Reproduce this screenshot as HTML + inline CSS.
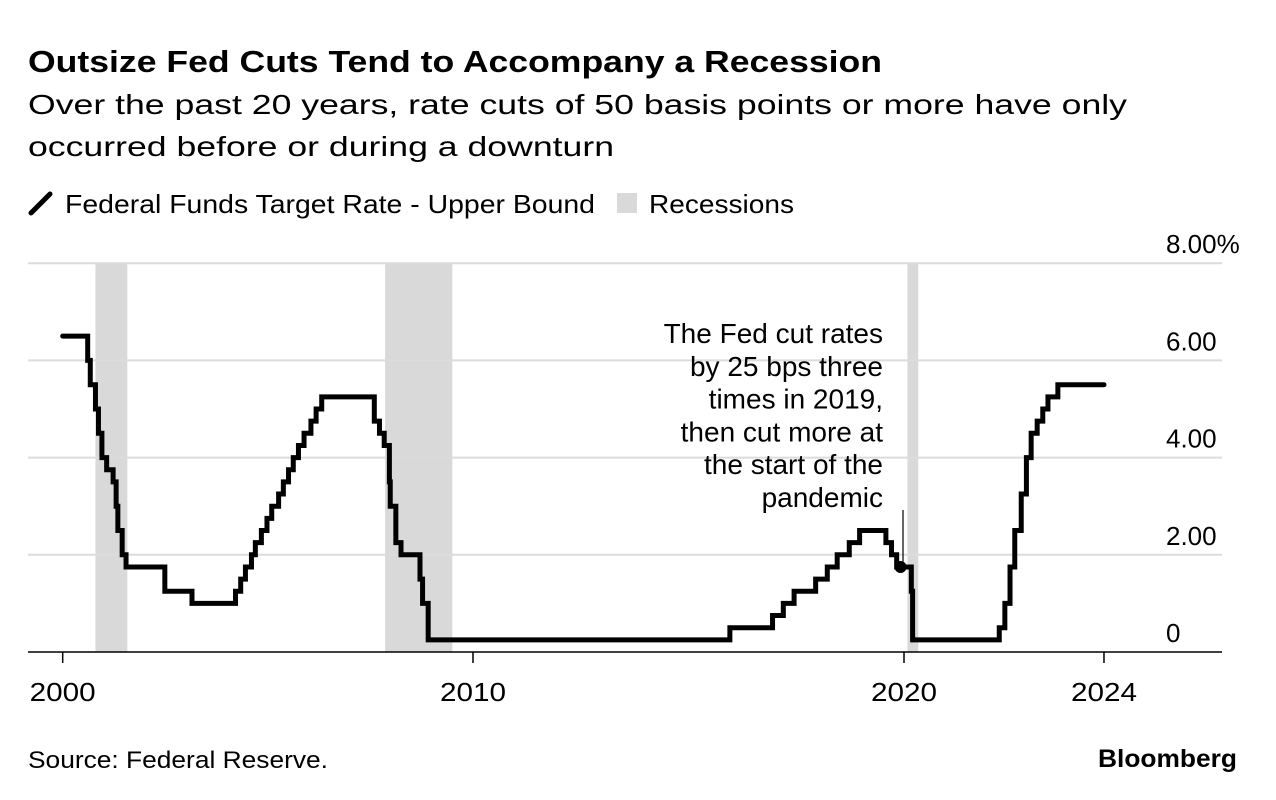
<!DOCTYPE html>
<html><head><meta charset="utf-8"><style>
html,body{margin:0;padding:0;background:#fff;width:1276px;height:800px;overflow:hidden}
svg{display:block;font-family:"Liberation Sans",sans-serif}
</style></head><body>
<svg id="chart" width="1276" height="800" viewBox="0 0 1276 800" xmlns="http://www.w3.org/2000/svg">
<text x="28" y="72" font-size="31" font-weight="bold" fill="#000" textLength="854" lengthAdjust="spacingAndGlyphs">Outsize Fed Cuts Tend to Accompany a Recession</text>
<text x="28" y="114" font-size="28" fill="#000" textLength="1099" lengthAdjust="spacingAndGlyphs">Over the past 20 years, rate cuts of 50 basis points or more have only</text>
<text x="28" y="156" font-size="28" fill="#000" textLength="586" lengthAdjust="spacingAndGlyphs">occurred before or during a downturn</text>
<line x1="31" y1="213" x2="50" y2="194" stroke="#000" stroke-width="5" stroke-linecap="round"/>
<text x="65" y="213" font-size="26" fill="#000" textLength="530" lengthAdjust="spacingAndGlyphs">Federal Funds Target Rate - Upper Bound</text>
<rect x="617" y="193" width="20" height="20" fill="#d9d9d9"/>
<text x="649" y="213" font-size="26" fill="#000" textLength="145" lengthAdjust="spacingAndGlyphs">Recessions</text>
<g id="plot"></g>
<text x="28" y="768" font-size="24" fill="#000" textLength="300" lengthAdjust="spacingAndGlyphs">Source: Federal Reserve.</text>
<text x="1237" y="767" font-size="25" font-weight="bold" fill="#000" text-anchor="end" textLength="139" lengthAdjust="spacingAndGlyphs">Bloomberg</text>
</svg>
<script>
// Data
const rateDates = [2000.48,2001.06,2001.12,2001.24,2001.31,2001.39,2001.50,2001.65,2001.72,2001.76,2001.86,2001.95,2002.85,2003.48,2004.49,2004.61,2004.72,2004.86,2004.95,2005.09,2005.22,2005.33,2005.49,2005.60,2005.72,2005.83,2005.95,2006.08,2006.24,2006.36,2006.49,2007.71,2007.83,2007.94,2008.06,2008.08,2008.21,2008.33,2008.77,2008.83,2008.96,2015.96,2016.95,2017.20,2017.45,2017.95,2018.22,2018.45,2018.73,2018.97,2019.58,2019.71,2019.83,2020.17,2020.20,2022.21,2022.34,2022.46,2022.57,2022.72,2022.84,2022.95,2023.09,2023.22,2023.34,2023.57];
const rateValues = [6.5,6.0,5.5,5.0,4.5,4.0,3.75,3.5,3.0,2.5,2.0,1.75,1.25,1.0,1.25,1.5,1.75,2.0,2.25,2.5,2.75,3.0,3.25,3.5,3.75,4.0,4.25,4.5,4.75,5.0,5.25,4.75,4.5,4.25,3.5,3.0,2.25,2.0,1.5,1.0,0.25,0.5,0.75,1.0,1.25,1.5,1.75,2.0,2.25,2.5,2.25,2.0,1.75,1.25,0.25,0.5,1.0,1.75,2.5,3.25,4.0,4.5,4.75,5.0,5.25,5.5];
const rateEnd = 2024.64;
const recessionStarts = [2001.24, 2007.96, 2020.08];
const recessionEnds = [2001.98, 2009.52, 2020.33];
const yTicks = [0, 2, 4, 6, 8];
const yTickLabels = ["0", "2.00", "4.00", "6.00", "8.00%"];
const xTicks = [2000.48, 2010, 2020, 2024.64];
const xTickLabels = ["2000", "2010", "2020", "2024"];
const annotationLines = ["The Fed cut rates","by 25 bps three","times in 2019,","then cut more at","the start of the","pandemic"];
const annotationPoint = [2019.92, 1.75];

// Scales
const X = t => 904 + (t - 2020) * 43.1;
const Y = v => 652 - v * 48.6;
const NS = "http://www.w3.org/2000/svg";
const plot = document.getElementById('plot');
function mk(tag, attrs){const e=document.createElementNS(NS,tag);for(const k in attrs)e.setAttribute(k,attrs[k]);plot.appendChild(e);return e;}

recessionStarts.forEach((s,i)=>{
  const r = mk('rect',{x:X(s),y:Y(8),width:X(recessionEnds[i])-X(s),height:Y(0)-Y(8),fill:'#d9d9d9'});
  
  
});
yTicks.forEach((v,i)=>{
  if(v>0){
    const g = mk('line',{x1:28,x2:1222,y1:Y(v),y2:Y(v),stroke:'#dcdcdc','stroke-width':2});
    
    
  }
  const t = mk('text',{x:1166,y:Y(v)-10,'font-size':26,fill:'#000'});
  t.textContent = yTickLabels[i];
  
  
});
const ax = mk('line',{x1:28,x2:1222,y1:652,y2:652,stroke:'#000','stroke-width':1.5});


xTicks.forEach((t,i)=>{
  const tk = mk('line',{x1:X(t),x2:X(t),y1:652,y2:663,stroke:'#000','stroke-width':1.5});
  
  
  const lb = mk('text',{x:X(t),y:701,'font-size':26,fill:'#000','text-anchor':'middle',textLength:66,lengthAdjust:'spacingAndGlyphs'});
  lb.textContent = xTickLabels[i];
  
  
});
let d = '';
rateDates.forEach((t,i)=>{
  d += (i===0 ? 'M'+X(t)+','+Y(rateValues[i]) : 'H'+X(t)+'V'+Y(rateValues[i]));
});
d += 'H'+X(rateEnd);
const path = mk('path',{d:d,fill:'none',stroke:'#000','stroke-width':5,'stroke-linejoin':'miter','stroke-linecap':'round'});


const ax2 = X(annotationPoint[0]), ay2 = Y(annotationPoint[1]);
const al = mk('line',{x1:903,x2:903,y1:510,y2:ay2,stroke:'#000','stroke-width':1.2});


const dot = mk('circle',{cx:ax2,cy:ay2,r:6,fill:'#000'});


annotationLines.forEach((s,i)=>{
  const t = mk('text',{x:883,y:343+i*32.8,'font-size':28,fill:'#000','text-anchor':'end'});
  t.textContent = s;
  
  
});
</script>
</body></html>
